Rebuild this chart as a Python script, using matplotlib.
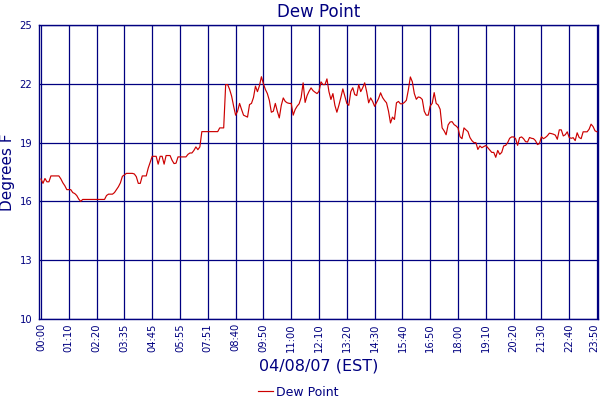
import numpy as np
import matplotlib
matplotlib.use('Agg')
import matplotlib.pyplot as plt
import matplotlib.transforms as mtransforms

# dew point readings, one every ~5 minutes
dew_point = [
    17.14, 16.92, 17.17, 17.0, 17.0, 17.3, 17.3, 17.3, 17.3, 17.3,
    17.15, 16.95, 16.8, 16.6, 16.6, 16.6, 16.45, 16.4, 16.3, 16.12,
    16.0, 16.1, 16.1, 16.1, 16.1, 16.1, 16.1, 16.1, 16.1, 16.1,
    16.1, 16.1, 16.1, 16.3, 16.37, 16.37, 16.37, 16.45, 16.6, 16.75,
    16.95, 17.28, 17.35, 17.43, 17.43, 17.43, 17.43, 17.4, 17.26, 16.92,
    16.92, 17.3, 17.3, 17.3, 17.7, 18.0, 18.3, 18.3, 18.3, 17.9,
    18.3, 18.3, 17.9, 18.34, 18.34, 18.34, 18.1, 17.93, 17.95, 18.27,
    18.27, 18.27, 18.27, 18.27, 18.4, 18.47, 18.47, 18.6, 18.78, 18.64,
    18.78, 19.56, 19.56, 19.56, 19.56, 19.56, 19.56, 19.56, 19.56, 19.56,
    19.75, 19.75, 19.75, 21.96, 21.96, 21.71, 21.37, 20.86, 20.4, 20.6,
    21.0, 20.69, 20.4, 20.35, 20.3, 20.94, 21.0, 21.3, 21.88, 21.6,
    21.9, 22.36, 22.0, 21.71, 21.5, 21.15, 20.55, 20.6, 21.0, 20.6,
    20.26, 20.9, 21.28, 21.1, 21.03, 21.0, 21.0, 20.4, 20.69, 20.86,
    20.98, 21.3, 22.05, 21.05, 21.4, 21.62, 21.79, 21.65, 21.57, 21.5,
    21.62, 22.1, 21.96, 21.96, 22.25, 21.6, 21.2, 21.5, 20.9, 20.55,
    20.9, 21.3, 21.74, 21.37, 21.0, 20.9, 21.6, 21.8, 21.45, 21.4,
    21.96, 21.6, 21.8, 22.05, 21.6, 21.03, 21.28, 21.1, 20.85, 21.05,
    21.25, 21.54, 21.3, 21.15, 21.03, 20.6, 20.0, 20.3, 20.18, 21.03,
    21.1, 20.98, 20.98, 21.05, 21.16, 21.7, 22.35, 22.1, 21.5, 21.21,
    21.33, 21.3, 21.2, 20.6, 20.4, 20.4, 20.87, 21.0, 21.55, 21.0,
    20.92, 20.7, 19.75, 19.6, 19.4, 19.9, 20.05, 20.07, 19.92, 19.85,
    19.75, 19.3, 19.2, 19.75, 19.65, 19.56, 19.26, 19.1, 19.0, 19.0,
    18.65, 18.83, 18.74, 18.8, 18.85, 18.74, 18.62, 18.5, 18.5, 18.25,
    18.6, 18.4, 18.5, 18.83, 18.86, 19.0, 19.22, 19.29, 19.29, 19.2,
    18.86, 19.25, 19.29, 19.2, 19.05, 19.03, 19.26, 19.22, 19.2, 19.1,
    18.9, 18.95, 19.3, 19.2, 19.26, 19.35, 19.48, 19.46, 19.43, 19.38,
    19.17, 19.65, 19.65, 19.34, 19.4, 19.55, 19.26, 19.22, 19.25, 19.1,
    19.5, 19.26, 19.2, 19.55, 19.55, 19.55, 19.68, 19.94, 19.82, 19.6,
    19.55,
]

time_labels = ['00:00', '01:10', '02:20', '03:35', '04:45', '05:55', '07:51',
               '08:40', '09:50', '11:00', '12:10', '13:20', '14:30', '15:40',
               '16:50', '18:00', '19:10', '20:20', '21:30', '22:40', '23:50']
y_ticks = [10, 13, 16, 19, 22, 25]

navy = '#000080'
x = np.arange(len(dew_point))
tick_pos = np.linspace(0, len(dew_point) - 1, len(time_labels))

fig = plt.figure(figsize=(6, 4), dpi=100)
ax = fig.add_axes([0.0655, 0.2025, 0.9317, 0.735])

ax.plot(x, dew_point, color='#cc0000', linewidth=0.85, label='Dew Point')

ax.set_xlim(-0.85, len(dew_point) - 1 + 0.65)
ax.set_ylim(10, 25)
ax.set_xticks(tick_pos)
ax.set_xticklabels(time_labels, rotation=90)
ax.set_yticks(y_ticks)
ax.tick_params(axis='both', length=0, colors=navy, labelsize=7.2)
ax.tick_params(axis='x', pad=3)
ax.tick_params(axis='y', pad=5)
ax.grid(True, color=navy, linewidth=0.9)
ax.set_axisbelow(True)
for s in ax.spines.values():
    s.set_color(navy)
    s.set_linewidth(1.0)

# keep the last time label inside the picture
last = ax.get_xticklabels()[-1]
last.set_transform(last.get_transform() +
                   mtransforms.ScaledTranslation(-3 / 100, 0, fig.dpi_scale_trans))

ax.set_title('Dew Point', color=navy, fontsize=12, pad=6)
ax.set_ylabel('Degrees F', color=navy, fontsize=11, labelpad=3)
ax.set_xlabel('04/08/07 (EST)', color=navy, fontsize=11.5, labelpad=5)

leg = fig.legend(loc='lower center', bbox_to_anchor=(0.497, -0.025), frameon=False,
                 fontsize=9, handlelength=1.2, handletextpad=0.3)
for t in leg.get_texts():
    t.set_color(navy)

fig.savefig('out.png', dpi=100)
